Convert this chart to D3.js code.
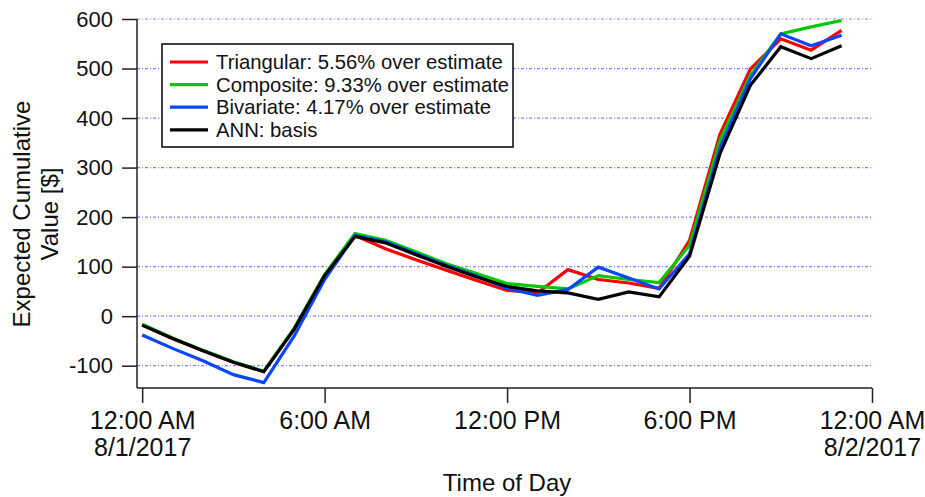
<!DOCTYPE html>
<html><head><meta charset="utf-8">
<script src="https://cdn.jsdelivr.net/npm/d3@7"></script>
<style>html,body{margin:0;padding:0;background:#fff;} svg{display:block;font-family:"Liberation Sans",Arial,sans-serif;}</style>
</head><body>
<svg id="c" width="925" height="497"></svg>
<script>
const hours = [0,1,2,3,4,5,6,7,8,9,10,11,12,13,14,15,16,17,18,19,20,21,22,23];
const triangular = [-18,-45,-70,-93,-112,-26,83,163,136,114,93,72,52,47,94,74,67,56,153,367,499,560,537,577];
const composite  = [-16,-44,-69,-92,-111,-24,84,167,153,130,106,86,66,60,55,82,74,68,143,355,486,570,584,597];
const bivariate  = [-38,-65,-90,-118,-134,-40,74,163,150,126,103,81,56,42,54,99,77,55,126,340,479,570,546,567];
const ann        = [-18,-45,-70,-93,-112,-26,82,161,148,124,101,79,60,51,47,34,49,39,121,328,466,544,520,546];
const seriesNames = ["Triangular: 5.56% over estimate","Composite: 9.33% over estimate","Bivariate: 4.17% over estimate","ANN: basis"];
const seriesColors = ["#ff0000","#00c800","#0a46ff","#000000"];
const yTicks = [-100,0,100,200,300,400,500,600];
const xTicks = [0,6,12,18,24];
const xTickLines = [["12:00 AM","8/1/2017"],["6:00 AM"],["12:00 PM"],["6:00 PM"],["12:00 AM","8/2/2017"]];

const svg = d3.select("#c");
const x = d3.scaleLinear().domain([-0.17,24]).range([137,872]);
const y = d3.scaleLinear().domain([-145,600]).range([388,19]);

// grid
svg.append("g").selectAll("line").data(yTicks).join("line")
  .attr("x1",137).attr("x2",872).attr("y1",d=>y(d)).attr("y2",d=>y(d))
  .attr("stroke","#6464ff").attr("stroke-width",1.2).attr("stroke-dasharray","3,2,1,2").attr("opacity",0.8);

// y axis
const yAxis = d3.axisLeft(y).tickValues(yTicks).tickSize(15).tickPadding(9).tickFormat(d=>String(d));
const gy = svg.append("g").attr("transform","translate(137,0)").call(yAxis);
gy.select(".domain").attr("d","M0,19V388").attr("stroke","#222").attr("stroke-width",1.5);
gy.selectAll(".tick line").attr("stroke","#222").attr("stroke-width",1.5);
gy.selectAll(".tick text").attr("font-size",22).attr("fill","#111").attr("font-family","Liberation Sans, Arial, sans-serif");

// x axis
const xAxis = d3.axisBottom(x).tickValues(xTicks).tickSize(15).tickFormat("");
const gx = svg.append("g").attr("transform","translate(0,388)").call(xAxis);
gx.select(".domain").attr("d","M137,0H872").attr("stroke","#222").attr("stroke-width",1.5);
gx.selectAll(".tick line").attr("stroke","#222").attr("stroke-width",1.5);
gx.selectAll(".tick").each(function(d,i){
  const t = d3.select(this).append("text").attr("fill","#111").attr("font-size",25)
    .attr("text-anchor","middle").attr("font-family","Liberation Sans, Arial, sans-serif");
  xTickLines[i].forEach((s,j)=>{
    t.append("tspan").attr("x",0).attr("y",41+j*27).text(s);
  });
});

// lines
const line = d3.line().x((d,i)=>x(hours[i])).y(d=>y(d));
const allSeries = [triangular, composite, bivariate, ann];
svg.append("g").selectAll("path").data(allSeries).join("path")
  .attr("d",line).attr("fill","none")
  .attr("stroke",(d,i)=>seriesColors[i]).attr("stroke-width",3.2)
  .attr("stroke-linejoin","miter");

// axis titles
svg.append("text").attr("x",x(12)).attr("y",491).attr("text-anchor","middle")
  .attr("font-size",24).attr("fill","#111").text("Time of Day");
const yt = svg.append("text").attr("transform","translate(0,214) rotate(-90)")
  .attr("text-anchor","middle").attr("font-size",24).attr("fill","#111");
yt.append("tspan").attr("x",0).attr("y",30).text("Expected Cumulative");
yt.append("tspan").attr("x",0).attr("y",58).text("Value [$]");

// legend
const lg = svg.append("g");
lg.append("rect").attr("x",162).attr("y",44).attr("width",351).attr("height",103)
  .attr("fill","#fff").attr("stroke","#000").attr("stroke-width",1.5);
const rows = lg.selectAll("g").data(seriesNames).join("g")
  .attr("transform",(d,i)=>`translate(0,${62+i*22.6})`);
rows.append("line").attr("x1",170).attr("x2",208).attr("y1",0).attr("y2",0)
  .attr("stroke",(d,i)=>seriesColors[i]).attr("stroke-width",3.2);
rows.append("text").attr("x",216).attr("y",7).attr("font-size",20.3).attr("fill","#111").text(d=>d);
</script>
</body></html>
